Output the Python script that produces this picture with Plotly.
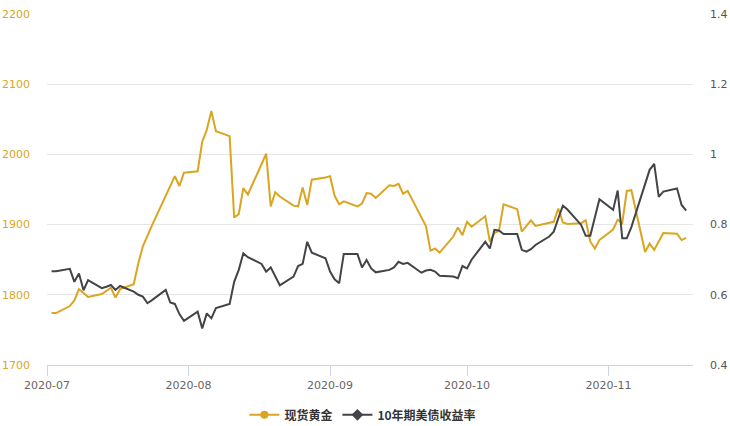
import plotly.graph_objects as go

dates = [
    "2020-07-02", "2020-07-03", "2020-07-06", "2020-07-07", "2020-07-08", "2020-07-09", "2020-07-10",
    "2020-07-13", "2020-07-14", "2020-07-15", "2020-07-16", "2020-07-17", "2020-07-20", "2020-07-21",
    "2020-07-22", "2020-07-23", "2020-07-24", "2020-07-27", "2020-07-28", "2020-07-29", "2020-07-30",
    "2020-07-31",
    "2020-08-03", "2020-08-04", "2020-08-05", "2020-08-06", "2020-08-07", "2020-08-10", "2020-08-11",
    "2020-08-12", "2020-08-13", "2020-08-14", "2020-08-17", "2020-08-18", "2020-08-19", "2020-08-20",
    "2020-08-21", "2020-08-24", "2020-08-25", "2020-08-26", "2020-08-27", "2020-08-28", "2020-08-31",
    "2020-09-01", "2020-09-02", "2020-09-03", "2020-09-04", "2020-09-07", "2020-09-08", "2020-09-09",
    "2020-09-10", "2020-09-11", "2020-09-14", "2020-09-15", "2020-09-16", "2020-09-17", "2020-09-18",
    "2020-09-21", "2020-09-22", "2020-09-23", "2020-09-24", "2020-09-25", "2020-09-28", "2020-09-29",
    "2020-09-30",
    "2020-10-01", "2020-10-02", "2020-10-05", "2020-10-06", "2020-10-07", "2020-10-08", "2020-10-09",
    "2020-10-12", "2020-10-13", "2020-10-14", "2020-10-15", "2020-10-16", "2020-10-19", "2020-10-20",
    "2020-10-21", "2020-10-22", "2020-10-23", "2020-10-26", "2020-10-27", "2020-10-28", "2020-10-29",
    "2020-10-30",
    "2020-11-02", "2020-11-03", "2020-11-04", "2020-11-05", "2020-11-06", "2020-11-09", "2020-11-10",
    "2020-11-11", "2020-11-12", "2020-11-13", "2020-11-16", "2020-11-17", "2020-11-18",
]

gold = [
    1774, 1774, 1784, 1792, 1808, 1803, 1797, 1801, 1806, 1810, 1796, 1808, 1815, 1845, 1869, 1885,
    1899, 1941, 1955, 1969, 1955, 1974,
    1976, 2018, 2035, 2062, 2033, 2026, 1910, 1915, 1952, 1943, 1986, 2001, 1926, 1946, 1940, 1927,
    1926, 1953, 1928, 1964, 1967,
    1969, 1941, 1929, 1933, 1926, 1930, 1945, 1944, 1938, 1956, 1955, 1958, 1944, 1948, 1911, 1898,
    1863, 1866, 1860, 1883, 1896, 1885,
    1904, 1897, 1912, 1876, 1888, 1891, 1929, 1922, 1890, 1898, 1906, 1898, 1902, 1904, 1923, 1903,
    1901, 1902, 1906, 1876, 1866, 1878,
    1893, 1907, 1902, 1948, 1949, 1861, 1873, 1864, 1876, 1888, 1887, 1878, 1881,
]

yield10 = [
    0.667, 0.667, 0.674, 0.637, 0.661, 0.613, 0.642, 0.619, 0.623, 0.628, 0.614, 0.625, 0.609, 0.600,
    0.595, 0.576, 0.585, 0.614, 0.578, 0.574, 0.545, 0.526,
    0.552, 0.504, 0.547, 0.533, 0.562, 0.574, 0.637, 0.671, 0.718, 0.707, 0.688, 0.666, 0.678, 0.652,
    0.627, 0.652, 0.682, 0.688, 0.751, 0.720, 0.704,
    0.666, 0.644, 0.633, 0.716, 0.716, 0.678, 0.699, 0.675, 0.664, 0.671, 0.678, 0.694, 0.688, 0.691,
    0.663, 0.669, 0.671, 0.666, 0.654, 0.652, 0.647, 0.682,
    0.675, 0.700, 0.751, 0.732, 0.785, 0.783, 0.773, 0.773, 0.728, 0.723, 0.730, 0.742, 0.766, 0.780,
    0.818, 0.854, 0.843, 0.799, 0.768, 0.768, 0.820, 0.872,
    0.842, 0.897, 0.761, 0.761, 0.793, 0.914, 0.956, 0.973, 0.879, 0.894, 0.903, 0.856, 0.840,
]

series_names = ["现货黄金", "10年期美债收益率"]
GOLD = "#DAA520"
DARK = "#434348"

fig = go.Figure()
fig.add_trace(go.Scatter(x=dates, y=gold, mode="lines", line=dict(color=GOLD, width=2),
                         showlegend=False, yaxis="y"))
fig.add_trace(go.Scatter(x=dates, y=yield10, mode="lines", line=dict(color=DARK, width=2),
                         showlegend=False, yaxis="y2"))
# legend entries
fig.add_trace(go.Scatter(x=[None], y=[None], mode="lines+markers", name=series_names[0],
                         line=dict(color=GOLD, width=2),
                         marker=dict(symbol="circle", size=8, color=GOLD)))
fig.add_trace(go.Scatter(x=[None], y=[None], mode="lines+markers", name=series_names[1],
                         line=dict(color=DARK, width=2),
                         marker=dict(symbol="diamond", size=9, color=DARK), yaxis="y2"))

fig.update_layout(
    width=730, height=426,
    margin=dict(l=47, r=37, t=14, b=61, autoexpand=False),
    paper_bgcolor="white", plot_bgcolor="white",
    font=dict(family="DejaVu Sans", size=11, color="#666666"),
    xaxis=dict(
        type="date", range=["2020-07-01", "2020-11-19 12:00"],
        dtick="M1", tick0="2020-07-01", tickformat="%Y-%m",
        ticks="outside", ticklen=10, tickcolor="#ccd6eb",
        showline=True, linecolor="#ccd6eb", linewidth=1,
        showgrid=False, zeroline=False, automargin=False,
        tickfont=dict(size=11, color="#666666"),
    ),
    yaxis=dict(
        range=[1700, 2200], dtick=100, gridcolor="#e6e6e6", gridwidth=1,
        zeroline=False, showline=False, ticks="", automargin=False,
        tickfont=dict(size=11, color=GOLD), ticklabelstandoff=16,
    ),
    yaxis2=dict(
        range=[0.4, 1.4], dtick=0.2, overlaying="y", side="right",
        showgrid=False, zeroline=False, showline=False, ticks="", automargin=False,
        tickfont=dict(size=11, color="#555555"), ticklabelstandoff=16,
    ),
    legend=dict(
        orientation="h", x=0.489, xanchor="center", y=-0.142, yanchor="middle",
        font=dict(family="Noto Sans CJK SC", size=12, color="#333333", weight="bold"),
        bgcolor="rgba(0,0,0,0)",
    ),
)

fig.write_html("out.html", config={"displayModeBar": False},
               post_script="document.body.style.margin='0px';document.body.style.overflow='hidden';")
